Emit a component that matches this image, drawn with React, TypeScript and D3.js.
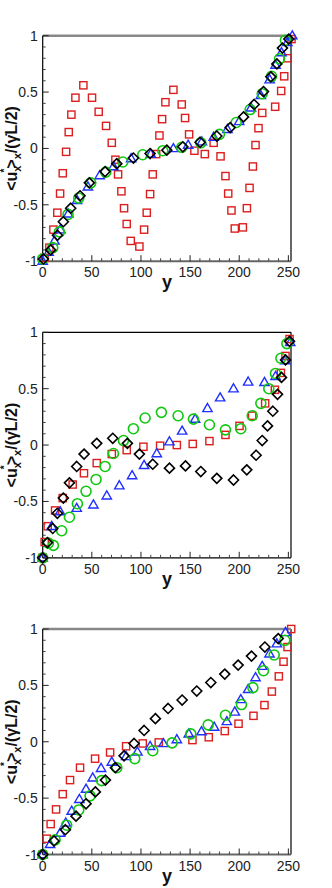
import React from 'react';
import * as d3 from 'd3';

// [y, <ux>/(γL/2)] pairs, one list per series per panel
const p1Red: [number, number][] = [
  [2, -0.97], [6.8, -0.88], [10.9, -0.72], [14.9, -0.57], [17.7, -0.4], [20.4, -0.22], [23.8, -0.03],
  [26.5, 0.145], [29.2, 0.3], [33.3, 0.45], [41.4, 0.56], [50.2, 0.45], [57, 0.325], [64.5, 0.2],
  [70.3, 0.05], [74, -0.1], [76.7, -0.23], [80.1, -0.38], [82.8, -0.53], [85.5, -0.67], [89.6, -0.82],
  [98.4, -0.87], [103.2, -0.72], [105.9, -0.57], [109.3, -0.405], [112, -0.23], [115.5, -0.05],
  [118.8, 0.115], [121.5, 0.26], [124.9, 0.41], [133, 0.52], [141.5, 0.39], [144.9, 0.27], [149, 0.125],
  [154.4, -0.02], [165, -0.05], [174, 0.05], [181, -0.07], [186, -0.245], [188.8, -0.4], [192.1, -0.55],
  [195.5, -0.71], [203.7, -0.7], [207.8, -0.53], [210.5, -0.35], [213.9, -0.16], [216.6, 0.03],
  [219.6, 0.18], [223.4, 0.315], [236.6, 0.37], [242.7, 0.51], [245.8, 0.64], [249.2, 0.8], [253.2, 0.97],
];
const p1Blue: [number, number][] = [
  [0, -1.0], [6, -0.92], [12, -0.82], [18, -0.72], [26, -0.58], [35, -0.46], [46, -0.34], [58, -0.24],
  [72, -0.16], [90, -0.09], [110, -0.05], [133, 0.0], [148, 0.03], [162, 0.06], [174, 0.1], [188, 0.17],
  [200, 0.24], [212, 0.36], [222, 0.47], [231, 0.61], [237, 0.74], [243, 0.85], [249, 0.94], [254, 1.0],
];
const p1Green: [number, number][] = [
  [0, -0.98], [10.2, -0.88], [17, -0.74], [25.8, -0.585], [36.7, -0.44], [48.9, -0.305], [64.2, -0.21],
  [81.5, -0.12], [101.8, -0.056], [122.2, -0.02], [141.5, 0.01], [160.9, 0.05], [179.9, 0.125],
  [196.9, 0.23], [211.1, 0.345], [223.4, 0.485], [232.9, 0.64], [241, 0.795], [247, 0.96],
];
const p1Black: [number, number][] = [
  [0.7, -0.98], [8.1, -0.9], [15, -0.77], [21, -0.65], [28.5, -0.53], [38, -0.42], [47.5, -0.305],
  [63.5, -0.205], [75.4, -0.135], [92.3, -0.085], [109.3, -0.045], [126.3, -0.015], [142.6, 0.015],
  [160.2, 0.055], [177.2, 0.11], [190.8, 0.185], [204.4, 0.28], [215.2, 0.39], [224.7, 0.505],
  [232.2, 0.635], [238.3, 0.75], [244, 0.89], [250.5, 0.97],
];

const p2Red: [number, number][] = [
  [0, -1], [2, -0.86], [5.1, -0.72], [12.6, -0.58], [20.4, -0.47], [30.5, -0.35], [42, -0.25], [55, -0.16],
  [70.3, -0.08], [85.5, -0.045], [102.5, -0.015], [119.5, -0.006], [136.5, 0.0], [152.7, 0.01],
  [169.7, 0.035], [186, 0.09], [200.3, 0.17], [213.2, 0.26], [226.4, 0.37], [236.3, 0.49], [242.4, 0.64],
  [247.1, 0.79], [251.2, 0.94],
];
const p2Blue: [number, number][] = [
  [0, -1], [9.2, -0.72], [17.7, -0.59], [34.6, -0.56], [51.6, -0.53], [65.2, -0.45], [78, -0.36],
  [91, -0.27], [103.2, -0.18], [116.1, -0.075], [129, 0.03], [141.9, 0.125], [155.1, 0.23], [167.7, 0.325],
  [180.6, 0.42], [194.2, 0.5], [209.1, 0.56], [225.7, 0.556], [237, 0.61], [246.8, 0.75], [251.9, 0.91],
];
const p2Green: [number, number][] = [
  [0, -1], [5.8, -0.87], [10.9, -0.89], [19.3, -0.76], [27.2, -0.64], [35.3, -0.52], [44.1, -0.41],
  [54.3, -0.305], [63.5, -0.19], [72, -0.075], [82.2, 0.04], [92.3, 0.145], [104.2, 0.24], [120.8, 0.29],
  [137.8, 0.26], [153.4, 0.23], [169.7, 0.18], [186, 0.135], [201.6, 0.145], [213.2, 0.26], [222, 0.37],
  [230.1, 0.5], [236.9, 0.635], [242.4, 0.77], [248.5, 0.9],
];
const p2Black: [number, number][] = [
  [0, -1], [4.8, -0.865], [10.2, -0.74], [14.9, -0.605], [21, -0.47], [27.2, -0.335], [34.6, -0.19],
  [42.1, -0.08], [55, 0.015], [71.3, 0.06], [86.2, 0.015], [98.4, -0.08], [112, -0.17], [129, -0.205],
  [145.3, -0.185], [160.9, -0.235], [177.2, -0.295], [194.2, -0.31], [207.7, -0.22], [217.2, -0.09],
  [223.4, 0.04], [228.8, 0.17], [234.2, 0.3], [239, 0.45], [243, 0.6], [247.1, 0.755], [251.2, 0.92],
];

const p3Red: [number, number][] = [
  [0, -1], [4.1, -0.86], [8.1, -0.73], [13.6, -0.6], [20.4, -0.465], [27.8, -0.34], [38, -0.23],
  [53.3, -0.15], [68.6, -0.095], [84.9, -0.04], [101.8, -0.015], [118.1, -0.006], [152.4, 0.015],
  [169, 0.04], [185.3, 0.095], [199.3, 0.16], [214.5, 0.23], [225.7, 0.325], [233.2, 0.445],
  [240.3, 0.58], [245.1, 0.71], [249.2, 0.84], [252.9, 1.0],
];
const p3Blue: [number, number][] = [
  [0, -1], [7.5, -0.91], [17.7, -0.81], [23.5, -0.72], [29.5, -0.615], [37.3, -0.51], [44.1, -0.42],
  [50.9, -0.32], [59.4, -0.235], [70.3, -0.18], [84.9, -0.13], [96.4, -0.09], [109.3, -0.04],
  [122.9, -0.015], [136.5, 0.02], [148.7, 0.07], [161.6, 0.09], [174.5, 0.13], [187.4, 0.18],
  [195.5, 0.265], [201.6, 0.375], [209.1, 0.465], [216.6, 0.57], [223.4, 0.67], [230.8, 0.78],
  [238.3, 0.87], [247.1, 0.97],
];
const p3Green: [number, number][] = [
  [0, -1], [12.6, -0.87], [24.4, -0.74], [36.7, -0.605], [48.2, -0.48], [60, -0.345], [75.4, -0.23],
  [93.7, -0.15], [112, -0.08], [131.7, -0.01], [150.7, 0.07], [168.4, 0.15], [186, 0.235], [202.3, 0.33],
  [213.9, 0.48], [224.7, 0.63], [235.6, 0.77], [246.4, 0.9],
];
const p3Black: [number, number][] = [
  [0, -1], [11.5, -0.88], [23.1, -0.78], [33.9, -0.66], [44.1, -0.55], [53.6, -0.445], [63.8, -0.34],
  [74, -0.23], [82.8, -0.125], [93, -0.015], [103.2, 0.1], [114.7, 0.205], [127.6, 0.295], [141.9, 0.37],
  [156.8, 0.45], [171.1, 0.525], [185.3, 0.6], [198.9, 0.68], [212.5, 0.76], [226.1, 0.84], [239.7, 0.915],
];

const xMajor = [0, 50, 100, 150, 200, 250];
const yMajor = [-1, -0.5, 0, 0.5, 1];
const yLabels = ['-1', '-0.5', '0', '0.5', '1'];

const RED = '#dc1e1e';
const BLUE = '#1f2fff';
const GREEN = '#10c810';
const FONT = 'Liberation Sans, Arial, sans-serif';

type PanelProps = {
  top: number;
  red: [number, number][];
  blue: [number, number][];
  green: [number, number][];
  black: [number, number][];
  grayFrame: boolean;
};

function Panel({ top, red, blue, green, black, grayFrame }: PanelProps) {
  const left = 42.7;
  const right = 291;
  const h = 225.5;
  const x = d3.scaleLinear().domain([0, 252.7]).range([left, right]);
  const y = d3.scaleLinear().domain([-1, 1]).range([top + h, top]);
  const bottom = top + h;
  const xMinor = d3.range(0, 251, 10).filter(v => v % 50 !== 0);
  const yMinor = d3.range(-10, 11).map(v => v / 10).filter(v => Math.abs(v * 10) % 5 !== 0);
  const tri = d3.symbol().type(d3.symbolTriangle).size(38)();

  return (
    <g>
      {/* frame */}
      <line x1={right} x2={right} y1={top} y2={bottom} stroke="#000" strokeWidth={1.2} />
      <line x1={left} x2={right} y1={top} y2={top}
        stroke={grayFrame ? '#888' : '#000'} strokeWidth={grayFrame ? 2.4 : 1.2} />
      <line x1={left} x2={right} y1={bottom} y2={bottom}
        stroke={grayFrame ? '#666' : '#000'} strokeWidth={grayFrame ? 2 : 1.2} />
      <line x1={left} x2={left} y1={top} y2={bottom} stroke="#000" strokeWidth={1.2} />

      {/* ticks */}
      {xMajor.map(t => (
        <line key={'xM' + t} x1={x(t)} x2={x(t)} y1={bottom} y2={bottom - 6} stroke="#222" />
      ))}
      {xMinor.map(t => (
        <line key={'xm' + t} x1={x(t)} x2={x(t)} y1={bottom} y2={bottom - 3} stroke="#444" />
      ))}
      {yMajor.map(t => (
        <line key={'yM' + t} x1={left} x2={left + 6} y1={y(t)} y2={y(t)} stroke="#222" />
      ))}
      {yMinor.map(t => (
        <line key={'ym' + t} x1={left} x2={left + 3} y1={y(t)} y2={y(t)} stroke="#444" />
      ))}

      {/* tick labels */}
      {xMajor.map(t => (
        <text key={'xl' + t} x={x(t)} y={bottom + 16} textAnchor="middle"
          fontFamily={FONT} fontSize={14} fill="#222">{t}</text>
      ))}
      {yMajor.map((t, i) => (
        <text key={'yl' + t} x={left - 5} y={y(t) + 5} textAnchor="end"
          fontFamily={FONT} fontSize={14} fill="#222">{yLabels[i]}</text>
      ))}

      {/* axis titles */}
      <text x={167} y={bottom + 27} textAnchor="middle" fontFamily={FONT}
        fontSize={18} fontWeight="bold" fill="#111">y</text>
      <text transform={`translate(17,${top + h / 2}) rotate(-90)`} textAnchor="middle"
        fontFamily={FONT} fontSize={16} fontWeight="bold" fill="#111">
        {'<u'}
        <tspan fontSize={11} dy={4}>x</tspan>
        <tspan fontSize={10} dx={-7} dy={-13}>*</tspan>
        <tspan dy={9}>{'>'}</tspan>
        <tspan fontSize={11} dy={4}>x</tspan>
        <tspan dy={-4}>{'/(γ̇L/2)'}</tspan>
      </text>

      {/* markers */}
      {red.map((d, i) => (
        <rect key={'r' + i} x={x(d[0]) - 3.6} y={y(d[1]) - 3.6} width={7.2} height={7.2}
          fill="none" stroke={RED} strokeWidth={1.4} />
      ))}
      {blue.map((d, i) => (
        <path key={'b' + i} d={tri!} transform={`translate(${x(d[0])},${y(d[1]) + 0.5})`}
          fill="none" stroke={BLUE} strokeWidth={1.4} />
      ))}
      {green.map((d, i) => (
        <circle key={'g' + i} cx={x(d[0])} cy={y(d[1])} r={5}
          fill="none" stroke={GREEN} strokeWidth={1.6} />
      ))}
      {black.map((d, i) => (
        <path key={'k' + i}
          d={`M${x(d[0])},${y(d[1]) - 5}L${x(d[0]) + 5},${y(d[1])}L${x(d[0])},${y(d[1]) + 5}L${x(d[0]) - 5},${y(d[1])}Z`}
          fill="none" stroke="#000" strokeWidth={1.6} />
      ))}
    </g>
  );
}

export default function App() {
  return (
    <svg width={332} height={888} style={{ position: 'absolute', left: 0, top: 0, background: '#fff' }}>
      <rect width={332} height={888} fill="#fff" />
      <Panel top={35.7} red={p1Red} blue={p1Blue} green={p1Green} black={p1Black} grayFrame />
      <Panel top={332.3} red={p2Red} blue={p2Blue} green={p2Green} black={p2Black} grayFrame={false} />
      <Panel top={629} red={p3Red} blue={p3Blue} green={p3Green} black={p3Black} grayFrame />
    </svg>
  );
}
